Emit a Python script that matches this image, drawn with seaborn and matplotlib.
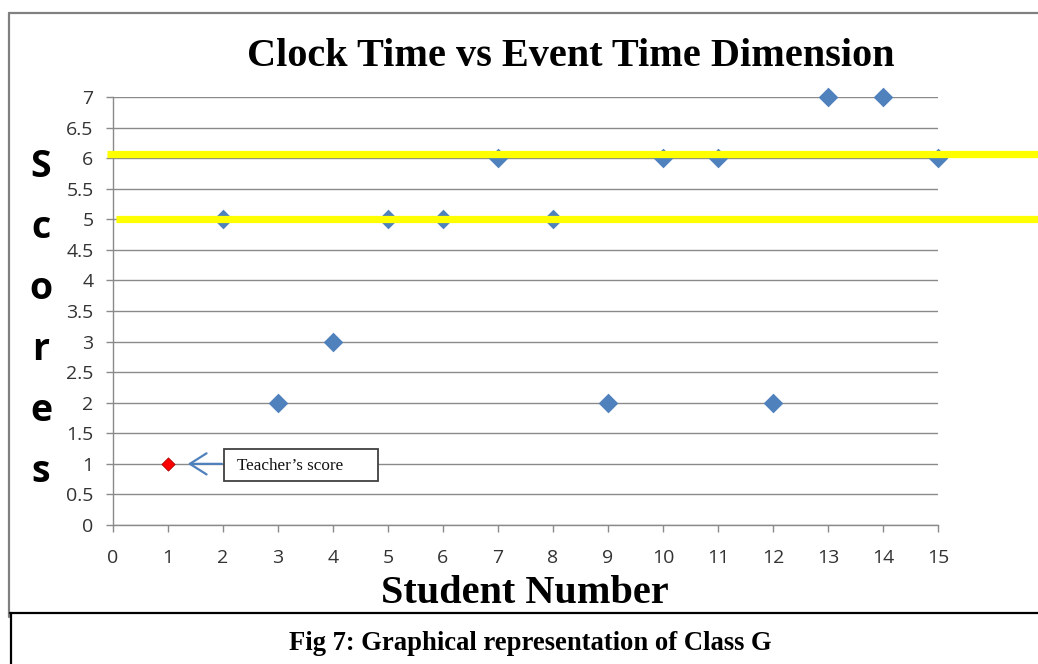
import numpy as np
import pandas as pd
import seaborn as sns
import matplotlib.pyplot as plt
from matplotlib.patches import Rectangle
from matplotlib.lines import Line2D

# Student scores (student 1 is the teacher's reference score)
students = [2, 3, 4, 5, 6, 7, 8, 9, 10, 11, 12, 13, 14, 15]
scores = [5, 2, 3, 5, 5, 6, 5, 2, 6, 6, 2, 7, 7, 6]
teacher_student = [1]
teacher_score = [1]
band_levels = [6.07, 5.0]
band_starts = [-0.007, 0.004]
x_ticks = list(range(0, 16))
y_ticks = [0, 0.5, 1, 1.5, 2, 2.5, 3, 3.5, 4, 4.5, 5, 5.5, 6, 6.5, 7]
y_tick_labels = ["0", "0.5", "1", "1.5", "2", "2.5", "3", "3.5", "4", "4.5",
                 "5", "5.5", "6", "6.5", "7"]

W, H = 1038, 664
sns.set_theme(style="white")
plt.rcParams["font.family"] = ["Open Sans", "DejaVu Sans"]

fig = plt.figure(figsize=(W / 100, H / 100), dpi=100)
fig.patch.set_facecolor("white")
ax = fig.add_axes([113 / W, 1 - 525 / H, 825 / W, 428 / H])

df = pd.DataFrame({"Student": students, "Score": scores})
sns.scatterplot(data=df, x="Student", y="Score", marker="D", s=100,
                color="#4F81BD", linewidth=0, ax=ax, zorder=3, clip_on=False)
sns.scatterplot(x=teacher_student, y=teacher_score, marker="D", s=45,
                color="#FF0000", edgecolor="#B00000", linewidth=0.6,
                ax=ax, zorder=3, clip_on=False)

# Highlight bands across the chart
for lvl, start in zip(band_levels, band_starts):
    ax.axhline(lvl, xmin=start, xmax=1.3, color="#FFFF00", lw=5.2,
               clip_on=False, zorder=4, solid_capstyle="butt")

ax.set_xlim(0, 15)
ax.set_ylim(0, 7)
ax.set_xticks(x_ticks)
ax.set_xticklabels([str(t) for t in x_ticks])
ax.set_yticks(y_ticks)
ax.set_yticklabels(y_tick_labels)
ax.yaxis.grid(True, color="#8a8a8a", lw=1.0)
ax.xaxis.grid(False)
ax.set_axisbelow(True)
for side in ["top", "right"]:
    ax.spines[side].set_visible(False)
for side in ["left", "bottom"]:
    ax.spines[side].set_color("#8a8a8a")
    ax.spines[side].set_linewidth(1.0)
ax.tick_params(axis="both", direction="out", length=5, width=1,
               color="#8a8a8a", labelsize=14, labelcolor="#333333",
               bottom=True, left=True)
ax.tick_params(axis="y", pad=9)
ax.tick_params(axis="x", pad=12)
ax.set_xlabel("")
ax.set_ylabel("")

# Teacher's score callout
ax.add_patch(Rectangle((2.02, 0.725), 2.80, 0.52, facecolor="white",
                       edgecolor="#404040", lw=1.3, zorder=5, clip_on=False))
ax.text(2.26, 0.96, "Teacher\u2019s score", ha="left", va="center",
        fontfamily="Liberation Serif", fontsize=12.3, color="#111111", zorder=6)
ax.annotate("", xy=(1.36, 1), xytext=(1.98, 1),
            arrowprops=dict(arrowstyle="->,head_length=0.6,head_width=0.38",
                            color="#4F81BD", lw=1.6, shrinkA=0, shrinkB=0,
                            mutation_scale=20), zorder=6)

# Titles
fig.text(571 / W, 1 - 66 / H, "Clock Time vs Event Time Dimension",
         ha="center", va="baseline", fontfamily="Liberation Serif",
         fontweight="bold", fontsize=29, color="black")
fig.text(525 / W, 1 - 603 / H, "Student Number", ha="center", va="baseline",
         fontfamily="Liberation Serif", fontweight="bold", fontsize=29,
         color="black")
for i, ch in enumerate("Scores"):
    fig.text(41 / W, 1 - (177 + 61 * i) / H, ch, ha="center", va="baseline",
             fontfamily="Open Sans", fontweight="bold", fontsize=27,
             color="black")

# Frame around the chart and caption box
fig.add_artist(Line2D([9 / W, 9 / W], [1 - 617 / H, 1 - 13 / H],
                      transform=fig.transFigure, color="#808080", lw=1.6))
fig.add_artist(Line2D([9 / W, 1.0], [1 - 13 / H, 1 - 13 / H],
                      transform=fig.transFigure, color="#808080", lw=1.6))
fig.add_artist(Line2D([10 / W, 1.0], [1 - 613 / H, 1 - 613 / H],
                      transform=fig.transFigure, color="black", lw=1.6))
fig.add_artist(Line2D([10.5 / W, 10.5 / W], [0, 1 - 613 / H],
                      transform=fig.transFigure, color="black", lw=1.6))
fig.text(530 / W, 1 - 650 / H, "Fig 7: Graphical representation of Class G",
         ha="center", va="baseline", fontfamily="Liberation Serif",
         fontweight="bold", fontsize=19.2, color="black")

fig.savefig("out.png", dpi=100)
